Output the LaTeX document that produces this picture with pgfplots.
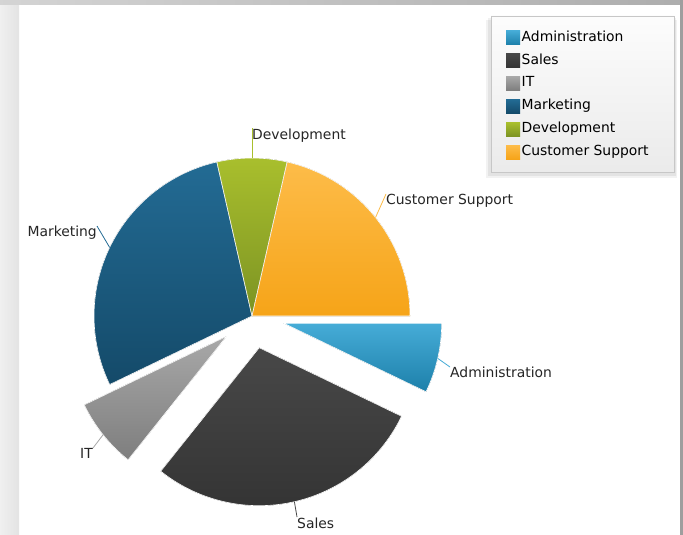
\documentclass[border=0pt]{standalone}
\usepackage{pgfplots}
\pgfplotsset{compat=1.18}
\usepackage{pgfplotstable}
\usepackage{fontspec}
\setmainfont{DejaVu Sans}

\definecolor{admT}{HTML}{46ACD7}
\definecolor{admB}{HTML}{1D80AA}
\definecolor{salT}{HTML}{484848}
\definecolor{salB}{HTML}{343434}
\definecolor{itT}{HTML}{A8A8A8}
\definecolor{itB}{HTML}{7E7E7E}
\definecolor{mkT}{HTML}{236B94}
\definecolor{mkB}{HTML}{144A69}
\definecolor{dvT}{HTML}{A9BF2D}
\definecolor{dvB}{HTML}{7C9323}
\definecolor{csT}{HTML}{FDBC49}
\definecolor{csB}{HTML}{F6A418}

% name, value, exploded, colours, label line end (x,y), label anchor point (x,y), anchor
\pgfplotstableread[col sep=comma]{
name,value,explode,ctop,cbot,ex,ey,tx,ty,anc
Administration,2,1,admT,admB,450,367,450,377,base west
Sales,8,1,salT,salB,297,517,297,528,base west
IT,2,1,itT,itB,93,448,93,458,base east
Marketing,8,0,mkT,mkB,97,226,97,236,base east
Development,2,0,dvT,dvB,252,128,252,139,base west
Customer Support,6,0,csT,csB,386,194,386,204,base west
}\piedata

\begin{document}
\begin{tikzpicture}[font=\fontsize{13.9bp}{16bp}\selectfont]
\def\total{0}
\pgfplotsforeachungrouped \i in {0,...,5}{%
  \pgfplotstablegetelem{\i}{value}\of\piedata
  \pgfmathsetmacro\total{\total+\pgfplotsretval}%
}
\begin{axis}[
  scale only axis, width=683bp, height=535bp,
  xmin=0, xmax=683, ymin=0, ymax=535, y dir=reverse,
  hide axis, clip=false, enlargelimits=false,
  legend style={at={(axis cs:506,30.5)}, anchor=north west, draw=none, fill=none,
    inner sep=0pt, row sep=8.9bp, column sep=1.5bp,
    nodes={inner sep=0pt, text height=10bp, text depth=3bp},
    cells={anchor=west}},
]
% frame
\fill[white] (axis cs:0,0) rectangle (axis cs:683,535);
\fill[left color=black!6, right color=black!11] (axis cs:0,0) rectangle (axis cs:19,535);
\fill[left color=black!17, right color=black!32] (axis cs:0,0) rectangle (axis cs:683,5);
\fill[black!38] (axis cs:680,0) rectangle (axis cs:683,535);

% pie slices
\def\cum{0}
\pgfplotsforeachungrouped \i in {0,...,5}{%
  \pgfplotstablegetelem{\i}{value}\of\piedata \let\v\pgfplotsretval
  \pgfplotstablegetelem{\i}{explode}\of\piedata \let\exf\pgfplotsretval
  \pgfplotstablegetelem{\i}{ctop}\of\piedata \let\ct\pgfplotsretval
  \pgfplotstablegetelem{\i}{cbot}\of\piedata \let\cb\pgfplotsretval
  \pgfmathsetmacro\a{-\cum/\total*360}%
  \pgfmathsetmacro\b{-(\cum+\v)/\total*360}%
  \pgfmathsetmacro\m{(\a+\b)/2}%
  \pgfmathsetmacro\px{252+\exf*32.5*cos(\m)}%
  \pgfmathsetmacro\py{316-\exf*32.5*sin(\m)}%
  \edef\temp{\noexpand\fill[top color=\ct, bottom color=\cb, draw=white, line width=0.6bp]
    (axis cs:\px,\py) -- ++(\a:158bp) arc[start angle=\a, end angle=\b, radius=158bp] -- cycle;}%
  \temp
  \pgfmathsetmacro\cum{\cum+\v}%
}
% labels with leader lines
\def\cum{0}
\pgfplotsforeachungrouped \i in {0,...,5}{%
  \pgfplotstablegetelem{\i}{name}\of\piedata \let\nm\pgfplotsretval
  \pgfplotstablegetelem{\i}{value}\of\piedata \let\v\pgfplotsretval
  \pgfplotstablegetelem{\i}{explode}\of\piedata \let\exf\pgfplotsretval
  \pgfplotstablegetelem{\i}{ctop}\of\piedata \let\ct\pgfplotsretval
  \pgfplotstablegetelem{\i}{ex}\of\piedata \let\lx\pgfplotsretval
  \pgfplotstablegetelem{\i}{ey}\of\piedata \let\ly\pgfplotsretval
  \pgfplotstablegetelem{\i}{tx}\of\piedata \let\tx\pgfplotsretval
  \pgfplotstablegetelem{\i}{ty}\of\piedata \let\ty\pgfplotsretval
  \pgfplotstablegetelem{\i}{anc}\of\piedata \let\an\pgfplotsretval
  \pgfmathsetmacro\m{-(\cum+\v/2)/\total*360}%
  \pgfmathsetmacro\qx{252+(\exf*32.5+158)*cos(\m)}%
  \pgfmathsetmacro\qy{316-(\exf*32.5+158)*sin(\m)}%
  \edef\temp{\noexpand\draw[\ct, line width=0.8bp] (axis cs:\qx,\qy) -- (axis cs:\lx,\ly);
    \noexpand\node[anchor=\an, inner sep=0pt, text=black!85] at (axis cs:\tx,\ty) {\nm};}%
  \temp
  \pgfmathsetmacro\cum{\cum+\v}%
}

% legend box
\fill[black, opacity=0.06] (axis cs:488,18) rectangle (axis cs:676,176);
\fill[black, opacity=0.05] (axis cs:486,20) rectangle (axis cs:677,178);
\draw[black!22, top color=black!1, bottom color=black!8] (axis cs:491,16) rectangle (axis cs:674,172);

\addlegendimage{legend image code/.code={\path[draw=none,top color=admT,bottom color=admB] (0bp,-7bp) rectangle (14bp,7bp);}}
\addlegendentry{Administration}
\addlegendimage{legend image code/.code={\path[draw=none,top color=salT,bottom color=salB] (0bp,-7bp) rectangle (14bp,7bp);}}
\addlegendentry{Sales}
\addlegendimage{legend image code/.code={\path[draw=none,top color=itT,bottom color=itB] (0bp,-7bp) rectangle (14bp,7bp);}}
\addlegendentry{IT}
\addlegendimage{legend image code/.code={\path[draw=none,top color=mkT,bottom color=mkB] (0bp,-7bp) rectangle (14bp,7bp);}}
\addlegendentry{Marketing}
\addlegendimage{legend image code/.code={\path[draw=none,top color=dvT,bottom color=dvB] (0bp,-7bp) rectangle (14bp,7bp);}}
\addlegendentry{Development}
\addlegendimage{legend image code/.code={\path[draw=none,top color=csT,bottom color=csB] (0bp,-7bp) rectangle (14bp,7bp);}}
\addlegendentry{Customer Support}
\end{axis}
\end{tikzpicture}
\end{document}
